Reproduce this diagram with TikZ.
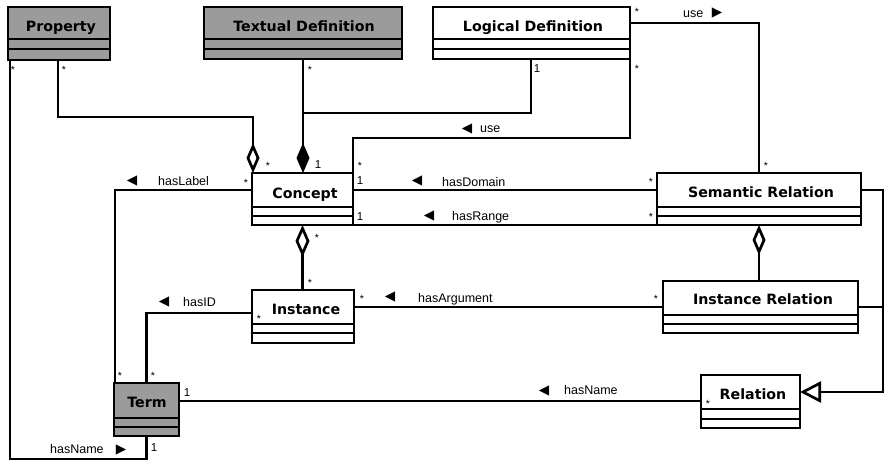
\documentclass[tikz,border=0pt]{standalone}
\usepackage{fontspec}
\setmainfont{Liberation Sans}
\newfontfamily\clsfont{DejaVu Sans}
\newfontfamily\symfont{DejaVu Sans}
\usetikzlibrary{arrows.meta}
\definecolor{clsgray}{RGB}{155,155,155}
\newcommand\compline[2]{\draw[conn] (#1.west |- 0,#2) -- (#1.east |- 0,#2);}
\begin{document}
\begin{tikzpicture}[x=1pt,y=-1pt,
  box/.style={draw, line width=2.7pt, rectangle, inner sep=0pt, outer sep=0pt, anchor=north west, fill=white},
  gbox/.style={box, fill=clsgray},
  cname/.style={font=\clsfont\bfseries\fontsize{14.2}{14}\selectfont, inner sep=0pt, anchor=base},
  conn/.style={line width=2.7pt},
  lab/.style={font=\fontsize{12.5}{12.5}\selectfont, inner sep=0pt, anchor=base west},
  tri/.style={font=\symfont\fontsize{13.5}{13.5}\selectfont, inner sep=0pt, anchor=center},
  st/.style={font=\fontsize{10.5}{10.5}\selectfont, inner sep=0pt, anchor=base, yshift=-6pt},
  one/.style={font=\fontsize{11.5}{11.5}\selectfont, inner sep=0pt, anchor=base, yshift=-4.1pt},
]
\useasboundingbox (0,0) rectangle (886,463);

% ---------- classes ----------
\node[gbox, minimum width=102pt, minimum height=53pt] (property) at (8,7) {};
\compline{property}{39}\compline{property}{49}
\node[cname] (property-n) at (61,31) {Property};

\node[gbox, minimum width=198pt, minimum height=52pt] (textdef) at (204,7) {};
\compline{textdef}{39}\compline{textdef}{49}
\node[cname] (textdef-n) at (304,31) {Textual Definition};

\node[box, minimum width=197pt, minimum height=52pt] (logdef) at (433,7) {};
\compline{logdef}{39}\compline{logdef}{49}
\node[cname] (logdef-n) at (533,31) {Logical Definition};

\node[box, minimum width=101pt, minimum height=52pt] (concept) at (252,173) {};
\compline{concept}{207}\compline{concept}{216}
\node[cname] (concept-n) at (305,198) {Concept};

\node[box, minimum width=204pt, minimum height=52pt] (semrel) at (657,173) {};
\compline{semrel}{207}\compline{semrel}{216}
\node[cname] (semrel-n) at (761,197) {Semantic Relation};

\node[box, minimum width=102pt, minimum height=53pt] (instance) at (252,290) {};
\compline{instance}{324}\compline{instance}{333}
\node[cname] (instance-n) at (306,314) {Instance};

\node[box, minimum width=195pt, minimum height=52pt] (instrel) at (663,281) {};
\compline{instrel}{315}\compline{instrel}{324}
\node[cname] (instrel-n) at (763,304) {Instance Relation};

\node[box, minimum width=99pt, minimum height=53pt] (relation) at (701,375) {};
\compline{relation}{409}\compline{relation}{419}
\node[cname] (relation-n) at (753,399) {Relation};

\node[gbox, minimum width=65pt, minimum height=53pt] (term) at (114,383) {};
\compline{term}{418}\compline{term}{427}
\node[cname] (term-n) at (147,407) {Term};

% ---------- connectors ----------
\draw[conn] (property.south -| 10,0) -- (10,459) -- (term.south |- 0,459) -- (term.south);
\draw[conn, -{Diamond[open, length=30pt, width=13pt]}] (property.south -| 58,0) -- (58,117) -- (253,117) -- (concept.north -| 253,0);
\draw[conn, -{Diamond[length=30pt, width=13pt]}] (textdef.south) -- (textdef.south |- concept.north);
\coordinate (join) at (303,113);
\draw[conn] (logdef.south -| 531,0) -- (531,113) -- (join);
\draw[conn] (logdef.south east) -- (630,138) -- (concept.north east |- 0,138) -- (concept.north east);
\draw[conn] (logdef.east |- 0,23) -- (semrel.north |- 0,23) -- (semrel.north);
\draw[conn] (concept.east |- 0,190) -- (semrel.west |- 0,190);
\draw[conn] (concept.south east) -- (semrel.south west);
\draw[conn] (concept.west |- 0,190) -- (115,190) -- (term.north -| 115,0);
\draw[conn, {Diamond[open, length=32pt, width=14pt]}-] (concept.south) -- (concept.south |- instance.north);
\draw[conn] (instance.west |- 0,313) -- (term.north |- 0,313) -- (term.north);
\draw[conn] (instance.east |- 0,307) -- (instrel.west |- 0,307);
\draw[conn, {Diamond[open, length=30pt, width=13pt]}-] (semrel.south) -- (semrel.south |- instrel.north);
\draw[conn] (term.east |- 0,401) -- (relation.west |- 0,401);
\draw[conn, -{Triangle[open, length=21pt, width=21pt]}] (semrel.east |- 0,190) -- (883,190) -- (883,392) -- (relation.east |- 0,392);
\draw[conn] (instrel.east |- 0,307) -- (883,307);

% ---------- role names ----------
\node[tri] (t-hasdomain) at (417,180.5) {◀};
\node[lab] (hasdomain) at (442,186) {hasDomain};
\node[tri] (t-hasrange) at (429,215.5) {◀};
\node[lab] (hasrange) at (452,220) {hasRange};
\node[tri] (t-haslabel) at (132,180.5) {◀};
\node[lab] (haslabel) at (158,185) {hasLabel};
\node[tri] (t-use1) at (467,128.5) {◀};
\node[lab] (use1) at (480,132) {use};
\node[lab] (use2) at (683,17) {use};
\node[tri] (t-use2) at (717,13) {▶};
\node[tri] (t-hasid) at (164,302) {◀};
\node[lab] (hasid) at (183,306) {hasID};
\node[tri] (t-hasarg) at (390,297) {◀};
\node[lab] (hasarg) at (418,302) {hasArgument};
\node[tri] (t-hasname1) at (544,391) {◀};
\node[lab] (hasname1) at (564,394) {hasName};
\node[lab] (hasname2) at (50,453) {hasName};
\node[tri] (t-hasname2) at (121,449.5) {▶};

% ---------- multiplicities ----------
\node[st] (m1) at (13,67) {*};
\node[st] (m2) at (64,67) {*};
\node[st] (m3) at (310,67) {*};
\node[st] (m4) at (268,163) {*};
\node[one] (m5) at (318,164) {1};
\node[st] (m6) at (246,180) {*};
\node[st] (m7) at (360,163) {*};
\node[one] (m8) at (360,180) {1};
\node[one] (m9) at (360,216) {1};
\node[st] (m10) at (317,235) {*};
\node[st] (m11) at (310,280) {*};
\node[st] (m12) at (120,373) {*};
\node[st] (m13) at (153,373) {*};
\node[st] (m14) at (259,316) {*};
\node[st] (m15) at (362,296) {*};
\node[one] (m16) at (187,392) {1};
\node[one] (m17) at (154,447) {1};
\node[one] (m18) at (537,68) {1};
\node[st] (m19) at (637,66) {*};
\node[st] (m20) at (637,10) {*};
\node[st] (m21) at (766,163) {*};
\node[st] (m22) at (651,179) {*};
\node[st] (m23) at (651,214) {*};
\node[st] (m24) at (656,296) {*};
\node[st] (m25) at (708,401) {*};
\end{tikzpicture}
\end{document}
